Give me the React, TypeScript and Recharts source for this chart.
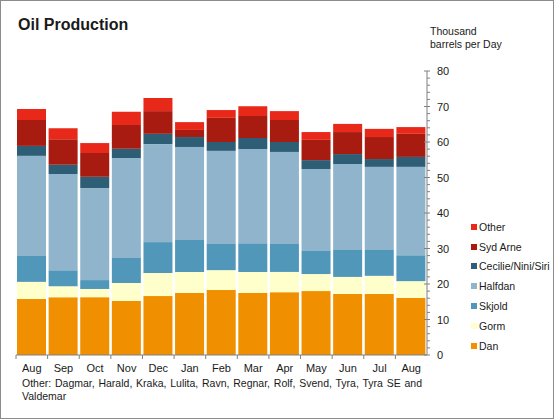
import { BarChart, Bar, XAxis, YAxis } from "recharts";

const MONTHS = ["Aug", "Sep", "Oct", "Nov", "Dec", "Jan", "Feb", "Mar", "Apr", "May", "Jun", "Jul", "Aug"];

const DAN = [15.8, 16.3, 16.3, 15.2, 16.6, 17.5, 18.3, 17.5, 17.7, 18.0, 17.2, 17.2, 16.1];
const GORM = [4.8, 3.1, 2.3, 5.1, 6.5, 5.9, 5.6, 5.9, 5.7, 4.8, 4.8, 5.1, 4.7];
const SKJOLD = [7.3, 4.5, 2.5, 7.0, 8.7, 9.0, 7.4, 8.1, 7.9, 6.5, 7.6, 7.3, 7.3];
const HALFDAN = [28.2, 27.1, 25.9, 28.2, 27.6, 26.2, 26.2, 26.5, 25.9, 23.1, 24.2, 23.4, 24.9];
const CECILIE = [2.8, 2.6, 3.2, 2.6, 2.9, 2.8, 2.5, 3.1, 2.8, 2.5, 2.8, 2.2, 2.8];
const SYD_ARNE = [7.3, 7.2, 6.7, 6.7, 6.4, 2.0, 6.8, 6.2, 6.2, 5.7, 6.2, 6.2, 6.5];
const OTHER = [3.1, 3.1, 2.8, 3.7, 3.7, 2.2, 2.2, 2.8, 2.5, 2.2, 2.3, 2.3, 1.9];

const Y_TICKS = Array.from({ length: 41 }, (_, i) => i * 2);

// bottom to top
const SERIES = [
  { key: "dan", name: "Dan", color: "#F09000", values: DAN },
  { key: "gorm", name: "Gorm", color: "#FFFFCC", values: GORM },
  { key: "skjold", name: "Skjold", color: "#5097BA", values: SKJOLD },
  { key: "halfdan", name: "Halfdan", color: "#8FB4CB", values: HALFDAN },
  { key: "cecilie", name: "Cecilie/Nini/Siri", color: "#2D5E75", values: CECILIE },
  { key: "sydArne", name: "Syd Arne", color: "#A71B10", values: SYD_ARNE },
  { key: "other", name: "Other", color: "#E8291A", values: OTHER },
];

const data = MONTHS.map((month, i) => {
  const row: Record<string, string | number> = { month };
  SERIES.forEach((s) => (row[s.key] = s.values[i]));
  return row;
});

const W = 554;
const H = 419;
const MARGIN = { top: 70, right: 68, left: 15, bottom: 35 };
const Y_AXIS_W = 60;
const PLOT_W = W - MARGIN.left - MARGIN.right - Y_AXIS_W;
const STEP = PLOT_W / MONTHS.length;
const FONT = "'Liberation Sans', Arial, sans-serif";
const AXIS = "#808080";
const TEXT = "#1a1a1a";

function XTick(props: any) {
  const { x, y, payload } = props;
  const half = STEP / 2;
  return (
    <g>
      <line x1={x - half} x2={x - half} y1={y} y2={y + 4} stroke={AXIS} />
      <text x={x} y={y + 17} textAnchor="middle" fontSize={11} fill={TEXT} fontFamily={FONT}>
        {payload.value}
      </text>
    </g>
  );
}

function YTick(props: any) {
  const { x, y, payload } = props;
  const major = payload.value % 10 === 0;
  return (
    <g>
      <line x1={major ? x - 3 : x} x2={x + 3} y1={y} y2={y} stroke={AXIS} />
      {major && (
        <text x={x + 10} y={y + 4} fontSize={11} fill={TEXT} fontFamily={FONT}>
          {payload.value}
        </text>
      )}
    </g>
  );
}

export default function App() {
  return (
    <div
      style={{
        position: "absolute",
        left: 0,
        top: 0,
        width: W,
        height: H,
        boxSizing: "border-box",
        border: "1px solid #8c8c8c",
        background: "#fff",
        fontFamily: FONT,
        color: TEXT,
      }}
    >
      <div style={{ position: "absolute", left: 0, top: 0 }}>
        <BarChart width={W} height={H} data={data} margin={MARGIN}>
          <XAxis
            dataKey="month"
            height={30}
            interval={0}
            tickSize={0}
            tickMargin={0}
            tickLine={false}
            axisLine={{ stroke: AXIS }}
            tick={<XTick />}
          />
          <YAxis
            orientation="right"
            width={Y_AXIS_W}
            domain={[0, 80]}
            ticks={Y_TICKS}
            interval={0}
            tickSize={0}
            tickMargin={0}
            tickLine={false}
            axisLine={{ stroke: AXIS }}
            tick={<YTick />}
          />
          {SERIES.map((s) => (
            <Bar
              key={s.key}
              dataKey={s.key}
              name={s.name}
              stackId="a"
              fill={s.color}
              barSize={29}
              isAnimationActive={false}
            />
          ))}
        </BarChart>
      </div>

      <div style={{ position: "absolute", left: 17, top: 15, fontSize: 16, fontWeight: "bold" }}>
        Oil Production
      </div>

      <div style={{ position: "absolute", left: 429, top: 24, fontSize: 10.5, lineHeight: "13px" }}>
        Thousand
        <br />
        barrels per Day
      </div>

      <div style={{ position: "absolute", left: 470, top: 216 }}>
        {[...SERIES].reverse().map((s) => (
          <div key={s.key} style={{ display: "flex", alignItems: "center", height: 19.8, fontSize: 10.5 }}>
            <span style={{ width: 6, height: 6, background: s.color, marginRight: 2, display: "inline-block" }} />
            {s.name}
          </div>
        ))}
      </div>

      <div
        style={{
          position: "absolute",
          left: 21,
          top: 376,
          width: 400,
          fontSize: 10.5,
          lineHeight: "13px",
          textAlign: "justify",
        }}
      >
        Other: Dagmar, Harald, Kraka, Lulita, Ravn, Regnar, Rolf, Svend, Tyra, Tyra SE and Valdemar
      </div>
    </div>
  );
}
